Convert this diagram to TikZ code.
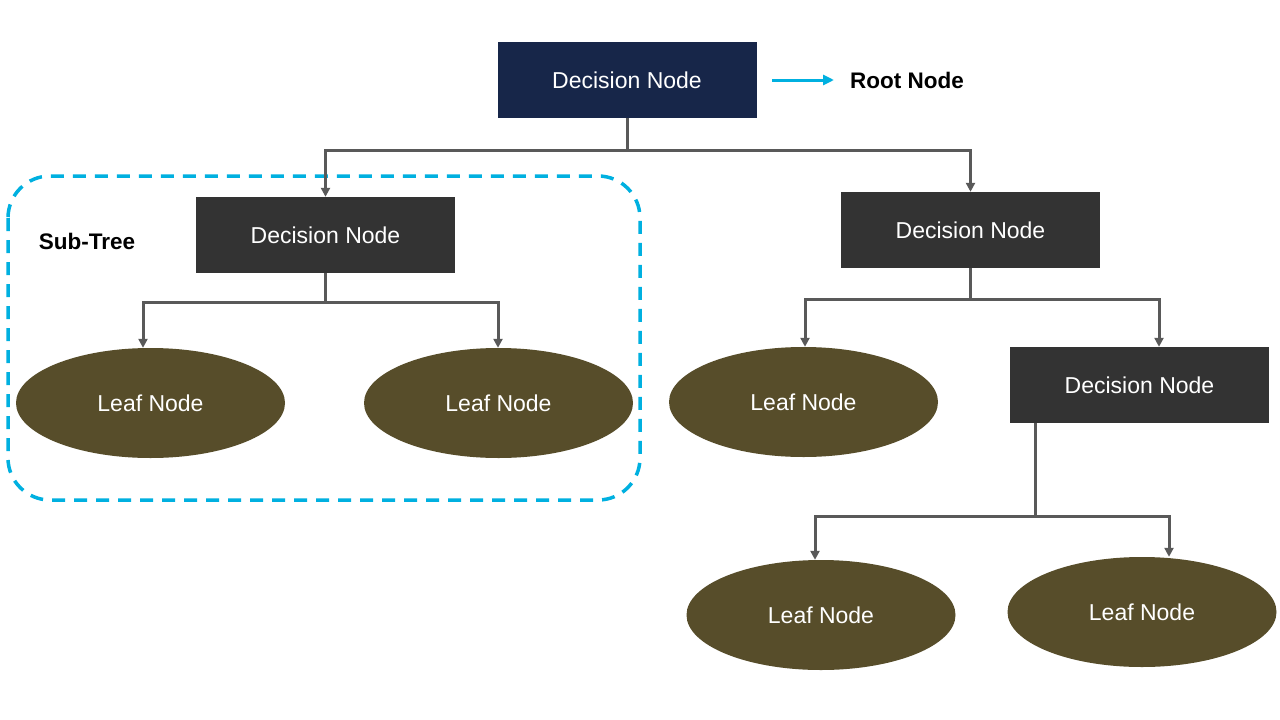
\documentclass[tikz,border=0pt]{standalone}
\usepackage{fontspec}
\setmainfont{Liberation Sans}
\usetikzlibrary{shapes.geometric,arrows.meta}
\definecolor{rootblue}{RGB}{23,38,73}
\definecolor{decgray}{RGB}{51,51,51}
\definecolor{leafbrown}{RGB}{87,77,42}
\definecolor{connGray}{RGB}{89,89,89}
\definecolor{cyanline}{RGB}{0,176,224}
\tikzset{
  txt/.style={font=\fontsize{23}{27}\selectfont},
  decbox/.style={rectangle, fill=decgray, draw=none, minimum width=259pt, minimum height=76pt, inner sep=0pt, text=white, txt},
  rootbox/.style={decbox, fill=rootblue},
  leaf/.style={ellipse, fill=leafbrown, draw=none, minimum width=269pt, minimum height=110pt, inner sep=0pt, text=white, txt},
  conn/.style={draw=connGray, line width=3pt, -{Triangle[length=9pt,width=9pt]}},
  lbl/.style={font=\bfseries\fontsize{22.5}{26}\selectfont, text=black},
}
\begin{document}
\begin{tikzpicture}[x=1pt,y=-1pt]
\useasboundingbox (0,0) rectangle (1280,720);
\fill[white] (0,0) rectangle (1280,720);

% subtree frame
\draw[cyanline, line width=3.5pt, dash pattern=on 13pt off 9pt, rounded corners=42pt] (8,176) rectangle (640,500);
\node[lbl] (sub) at (87,241) {Sub-Tree};

% nodes
\node[rootbox] (root) at (627,80) {Decision Node};
\node[lbl] (rootlbl) at (907,80) {Root Node};
\node[decbox] (d1) at (325.5,235) {Decision Node};
\node[decbox] (d2) at (970.5,230) {Decision Node};
\node[decbox] (d3) at (1139.5,385) {Decision Node};
\node[leaf] (l1) at (150.5,403) {Leaf Node};
\node[leaf] (l2) at (498.5,403) {Leaf Node};
\node[leaf] (l3) at (803.5,402) {Leaf Node};
\node[leaf] (l4) at (821,615) {Leaf Node};
\node[leaf] (l5) at (1142,612) {Leaf Node};

% root pointer
\coordinate (ra) at (772,80);
\coordinate (rb) at (834,80);
\draw[cyanline, line width=3pt, -{Triangle[length=11pt,width=10pt]}] (ra) -- (rb);

% connectors
\draw[conn] (root.south) -- ++(0,32) -| (d1.north);
\draw[conn] (root.south) -- ++(0,32) -| (d2.north);
\draw[conn] (d1.south) -- ++(0,29) -| ([xshift=-7.5pt]l1.north);
\draw[conn] (d1.south) -- ++(0,29) -| ([xshift=-0.5pt]l2.north);
\draw[conn] (d2.south) -- ++(0,31) -| ([xshift=1.5pt]l3.north);
\draw[conn] (d2.south) -- ++(0,31) -| ([xshift=19.5pt]d3.north);
\coordinate (d3out) at ([xshift=26pt]d3.south west);
\draw[conn] (d3out) -- ++(0,93) -| ([xshift=-6pt]l4.north);
\draw[conn] (d3out) -- ++(0,93) -| ([xshift=27pt]l5.north);
\end{tikzpicture}
\end{document}
